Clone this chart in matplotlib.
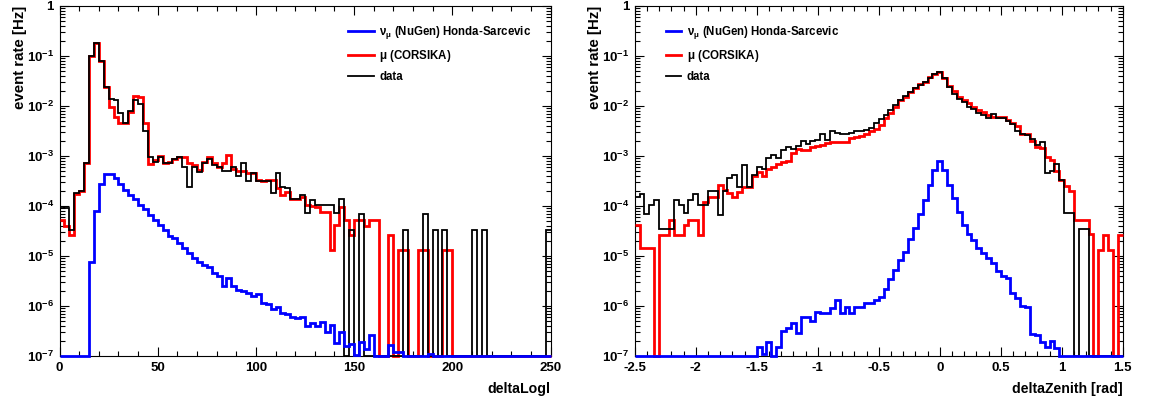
import numpy as np
import matplotlib
matplotlib.use('Agg')
import matplotlib.pyplot as plt
from matplotlib.ticker import MultipleLocator, FixedLocator, FixedFormatter, LogLocator, NullFormatter, FuncFormatter
from matplotlib.lines import Line2D

plt.rcParams['font.family'] = ['Liberation Sans', 'DejaVu Sans']
plt.rcParams['font.weight'] = 'bold'
plt.rcParams['axes.unicode_minus'] = False
plt.rcParams['mathtext.fontset'] = 'custom'
plt.rcParams['mathtext.rm'] = 'Liberation Sans:bold'
plt.rcParams['mathtext.it'] = 'Liberation Sans:italic:bold'
plt.rcParams['mathtext.bf'] = 'Liberation Sans:bold'
plt.rcParams['mathtext.default'] = 'regular'

# ---- deltaLogl histogram (100 bins, 0..250), rates in Hz ----
logl_edges = np.linspace(0, 250, 101)
logl_nugen = [0, 0, 0, 0, 0, 0, 7.7e-6, 7.9e-5, 2.7e-4, 4.3e-4,
              4.3e-4, 3.6e-4, 2.8e-4, 2.1e-4, 1.66e-4, 1.36e-4, 1.05e-4, 8.6e-5, 6.6e-5, 5.2e-5,
              4.2e-5, 3.3e-5, 2.55e-5, 2.25e-5, 1.8e-5, 1.42e-5, 1.13e-5, 9.0e-6, 7.7e-6, 6.6e-6,
              5.9e-6, 4.5e-6, 4.0e-6, 2.55e-6, 3.7e-6, 2.55e-6, 2.1e-6, 2.0e-6, 1.85e-6, 1.6e-6,
              1.7e-6, 1.17e-6, 1.08e-6, 8.6e-7, 9.4e-7, 7.1e-7, 6.8e-7, 6.1e-7, 5.8e-7, 6.0e-7,
              4.0e-7, 4.5e-7, 4.0e-7, 4.7e-7, 3.0e-7, 4.2e-7, 1.8e-7, 3.0e-7, 1.6e-7, 1.7e-7,
              1.05e-7, 1.9e-7, 1.4e-7, 2.6e-7, 0, 0, 0, 1.66e-7, 1.2e-7, 1.2e-7,
              0, 0, 0, 0, 0, 1.1e-7, 0, 0, 0, 0,
              0, 0, 0, 0, 0, 0, 0, 0, 0, 0,
              0, 0, 0, 0, 0, 0, 0, 0, 0, 0]
logl_corsika = [5.2e-5, 4.0e-5, 2.6e-5, 1.7e-4, 2.0e-4, 7.1e-4, 0.1, 0.185, 0.079, 0.0244,
                0.0094, 0.0059, 0.0046, 0.0046, 0.0077, 0.0158, 0.0149, 0.0045, 6.9e-4, 8.3e-4,
                1.0e-3, 7.1e-4, 7.7e-4, 8.6e-4, 9.7e-4, 9.7e-4, 7.1e-4, 6.6e-4, 5.2e-4, 7.7e-4,
                9.7e-4, 7.1e-4, 6.1e-4, 7.1e-4, 1.04e-3, 5.6e-4, 5.0e-4, 5.0e-4, 4.5e-4, 4.5e-4,
                3.3e-4, 3.1e-4, 3.3e-4, 3.3e-4, 2.3e-4, 1.66e-4, 1.9e-4, 1.36e-4, 1.36e-4, 1.5e-4,
                1.05e-4, 1.0e-4, 9.7e-5, 7.7e-5, 7.7e-5, 1.3e-5, 4.2e-5, 9.7e-5, 5.2e-5, 2.6e-5,
                5.2e-5, 5.2e-5, 3.9e-5, 5.2e-5, 5.2e-5, 0, 0, 2.6e-5, 0, 1.3e-5,
                1.3e-5, 0, 0, 1.3e-5, 1.3e-5, 0, 0, 0, 1.3e-5, 1.3e-5,
                0, 0, 0, 0, 0, 0, 0, 0, 0, 0,
                0, 0, 0, 0, 0, 0, 0, 0, 0, 0]
logl_data = [9.7e-5, 9.0e-5, 3.3e-5, 1.8e-4, 2.0e-4, 7.1e-4, 0.1, 0.185, 0.079, 0.0244,
             0.014, 0.0132, 0.0071, 0.0046, 0.0079, 0.0132, 0.011, 0.0032, 9.5e-4, 7.6e-4,
             9.7e-4, 7.1e-4, 7.1e-4, 8.6e-4, 9.7e-4, 6.1e-4, 2.4e-4, 6.1e-4, 4.8e-4, 7.1e-4,
             8.6e-4, 6.6e-4, 5.9e-4, 5.0e-4, 5.0e-4, 6.1e-4, 3.9e-4, 7.1e-4, 3.1e-4, 4.5e-4,
             3.1e-4, 3.1e-4, 3.1e-4, 1.8e-4, 4.5e-4, 2.4e-4, 2.3e-4, 1.36e-4, 1.36e-4, 1.66e-4,
             7.1e-5, 1.3e-4, 1.05e-4, 1.05e-4, 1.05e-4, 1.05e-4, 7.1e-5, 1.36e-4, 0, 3.3e-5,
             0, 6.8e-5, 0, 0, 0, 0, 0, 0, 0, 0,
             3.3e-5, 0, 0, 0, 6.8e-5, 0, 3.3e-5, 0, 3.3e-5, 0,
             0, 0, 0, 0, 3.3e-5, 0, 3.3e-5, 0, 0, 0,
             0, 0, 0, 0, 0, 0, 0, 0, 0, 3.3e-5]

# ---- deltaZenith histogram (100 bins, -2.5..1.5 rad) ----
zen_edges = np.linspace(-2.5, 1.5, 101)
zen_nugen = [0, 0, 0, 0, 0, 0, 0, 0, 0, 0,
             0, 0, 0, 0, 0, 0, 0, 0, 0, 0,
             0, 0, 0, 0, 0, 1.54e-7, 1.1e-7, 1.94e-7, 0, 1.5e-7,
             3.1e-7, 3.6e-7, 4.5e-7, 2.9e-7, 6.1e-7, 6.1e-7, 5.1e-7, 7.7e-7, 7.1e-7, 7.1e-7,
             9.0e-7, 1.32e-6, 7.1e-7, 9.7e-7, 7.1e-7, 9.7e-7, 9.7e-7, 1.13e-6, 1.13e-6, 1.32e-6,
             1.49e-6, 2.2e-6, 3.4e-6, 5.2e-6, 8.3e-6, 1.22e-5, 2.15e-5, 3.7e-5, 6.9e-5, 1.32e-4,
             2.6e-4, 5.2e-4, 7.9e-4, 5.2e-4, 2.6e-4, 1.42e-4, 7.7e-5, 4.2e-5, 2.8e-5, 2.1e-5,
             1.42e-5, 1.13e-5, 9.0e-6, 7.1e-6, 4.9e-6, 3.9e-6, 3.6e-6, 1.79e-6, 1.42e-6, 1.0e-6,
             9.4e-7, 2.8e-7, 2.6e-7, 1.94e-7, 1.54e-7, 2.0e-7, 1.42e-7, 0, 0, 0,
             0, 0, 0, 0, 0, 0, 0, 0, 0, 0]
zen_corsika = [4.2e-5, 1.42e-5, 1.42e-5, 1.42e-5, 0, 2.6e-5, 2.6e-5, 5.2e-5, 2.6e-5, 2.6e-5,
               4.2e-5, 5.2e-5, 5.2e-5, 2.6e-5, 1.22e-4, 1.54e-4, 1.54e-4, 2.6e-4, 2.1e-4, 1.8e-4,
               1.54e-4, 1.9e-4, 2.4e-4, 2.4e-4, 3.9e-4, 4.7e-4, 3.9e-4, 5.4e-4, 6.1e-4, 6.9e-4,
               7.7e-4, 8.1e-4, 1.13e-3, 1.36e-3, 1.32e-3, 1.32e-3, 1.49e-3, 1.58e-3, 1.66e-3, 1.85e-3,
               1.94e-3, 1.94e-3, 1.94e-3, 1.94e-3, 2.25e-3, 2.4e-3, 2.55e-3, 2.75e-3, 3.1e-3, 3.5e-3,
               4.2e-3, 5.8e-3, 7.4e-3, 9.7e-3, 0.0132, 0.0154, 0.0194, 0.0225, 0.0275, 0.0307,
               0.0374, 0.0437, 0.0486, 0.0357, 0.0251, 0.0203, 0.0149, 0.0132, 0.0113, 9.4e-3,
               8.3e-3, 7.7e-3, 6.6e-3, 6.1e-3, 6.1e-3, 6.1e-3, 5.2e-3, 4.5e-3, 4.0e-3, 2.8e-3,
               2.8e-3, 2.0e-3, 1.54e-3, 1.42e-3, 9.7e-4, 8.3e-4, 4.9e-4, 3.3e-4, 2.5e-4, 2.0e-4,
               5.3e-5, 5.3e-5, 5.3e-5, 2.7e-5, 0, 1.3e-5, 2.6e-5, 1.3e-5, 0, 2.6e-5]
zen_data = [1.5e-4, 1.7e-4, 6.9e-5, 1.05e-4, 1.32e-4, 3.4e-5, 3.4e-5, 3.4e-5, 1.32e-4, 1.05e-4,
            7.1e-5, 1.32e-4, 1.71e-4, 1.05e-4, 1.05e-4, 2.0e-4, 2.0e-4, 6.6e-5, 2.0e-4, 3.7e-4,
            4.2e-4, 2.4e-4, 6.6e-4, 2.4e-4, 4.2e-4, 6.1e-4, 5.4e-4, 9.0e-4, 1.05e-3, 9.0e-4,
            1.32e-3, 1.49e-3, 1.36e-3, 1.58e-3, 2.0e-3, 1.74e-3, 2.0e-3, 2.1e-3, 2.8e-3, 2.1e-3,
            3.1e-3, 2.9e-3, 2.8e-3, 2.75e-3, 2.9e-3, 3.1e-3, 3.2e-3, 3.3e-3, 3.7e-3, 4.5e-3,
            5.4e-3, 6.6e-3, 8.3e-3, 0.0105, 0.0132, 0.0158, 0.0194, 0.0225, 0.0263, 0.0307,
            0.0357, 0.0437, 0.0486, 0.0357, 0.0236, 0.0174, 0.0136, 0.0122, 9.4e-3, 8.7e-3,
            7.1e-3, 6.6e-3, 5.7e-3, 6.9e-3, 5.7e-3, 5.7e-3, 5.1e-3, 4.4e-3, 3.1e-3, 2.8e-3,
            2.6e-3, 2.15e-3, 1.66e-3, 1.94e-3, 4.5e-4, 5.1e-4, 6.9e-4, 3.3e-4, 7.1e-5, 7.1e-5,
            0, 3.4e-5, 3.4e-5, 0, 0, 0, 0, 0, 0, 0]

legend_labels = [r'$\nu_{\mu}$ (NuGen) Honda-Sarcevic', r'$\mu$ (CORSIKA)', 'data']
y_ticks = [1e-7, 1e-6, 1e-5, 1e-4, 1e-3, 1e-2, 1e-1, 1]
y_tick_labels = ['$10^{-7}$', '$10^{-6}$', '$10^{-5}$', '$10^{-4}$',
                 '$10^{-3}$', '$10^{-2}$', '$10^{-1}$', '1']
y_min = 1e-7

fig = plt.figure(figsize=(11.5, 4.03), dpi=100)
ax1 = fig.add_axes([59.5 / 1150, 1 - 356 / 403, 491 / 1150, 350 / 403])
ax2 = fig.add_axes([634.7 / 1150, 1 - 356 / 403, 488 / 1150, 350 / 403])


def draw_panel(ax, edges, nugen, corsika, data, xlabel, major, minor, leg_x, handle_len):
    # ROOT draws empty bins on the floor of the log axis
    ax.stairs(np.clip(corsika, y_min, None), edges, color='red', lw=2.0, baseline=None,
              zorder=2, clip_on=False)
    ax.stairs(np.clip(data, y_min, None), edges, color='black', lw=1.3, baseline=None,
              zorder=3, clip_on=False)
    ax.stairs(np.clip(nugen, y_min, None), edges, color='blue', lw=2.0, baseline=None,
              zorder=4, clip_on=False)
    ax.set_yscale('log')
    ax.set_xlim(edges[0], edges[-1])
    ax.set_ylim(y_min, 1)
    ax.yaxis.set_major_locator(FixedLocator(y_ticks))
    ax.yaxis.set_major_formatter(FixedFormatter(y_tick_labels))
    ax.yaxis.set_minor_locator(LogLocator(base=10, subs=np.arange(2, 10)))
    ax.yaxis.set_minor_formatter(NullFormatter())
    ax.xaxis.set_major_locator(MultipleLocator(major))
    ax.xaxis.set_minor_locator(MultipleLocator(minor))
    ax.xaxis.set_major_formatter(FuncFormatter(lambda v, p: '%g' % v))
    ax.tick_params(which='both', direction='in', top=True, right=True, width=0.8, labelsize=9.5)
    ax.tick_params(which='major', length=6.5, pad=4)
    ax.tick_params(which='minor', length=3.3)
    for s in ax.spines.values():
        s.set_linewidth(0.8)
        s.set_zorder(1)
    ax.set_xlabel(xlabel, loc='right', fontsize=10.2, fontweight='bold', labelpad=6)
    ax.set_ylabel('event rate [Hz]', loc='top', fontsize=10.8, fontweight='bold', labelpad=0)
    handles = [Line2D([], [], color='blue', lw=2.0),
               Line2D([], [], color='red', lw=2.0),
               Line2D([], [], color='black', lw=1.3)]
    ax.legend(handles, legend_labels, loc='upper left', bbox_to_anchor=(leg_x, 0.948),
              frameon=False, fontsize=8.3, handlelength=handle_len, handletextpad=0.5,
              labelspacing=0.58, borderaxespad=0, borderpad=0)


draw_panel(ax1, logl_edges, logl_nugen, logl_corsika, logl_data, 'deltaLogl', 50, 10, 0.588, 2.2)
draw_panel(ax2, zen_edges, zen_nugen, zen_corsika, zen_data, 'deltaZenith [rad]', 0.5, 0.1, 0.064, 1.3)

fig.savefig('out.png', dpi=100)
